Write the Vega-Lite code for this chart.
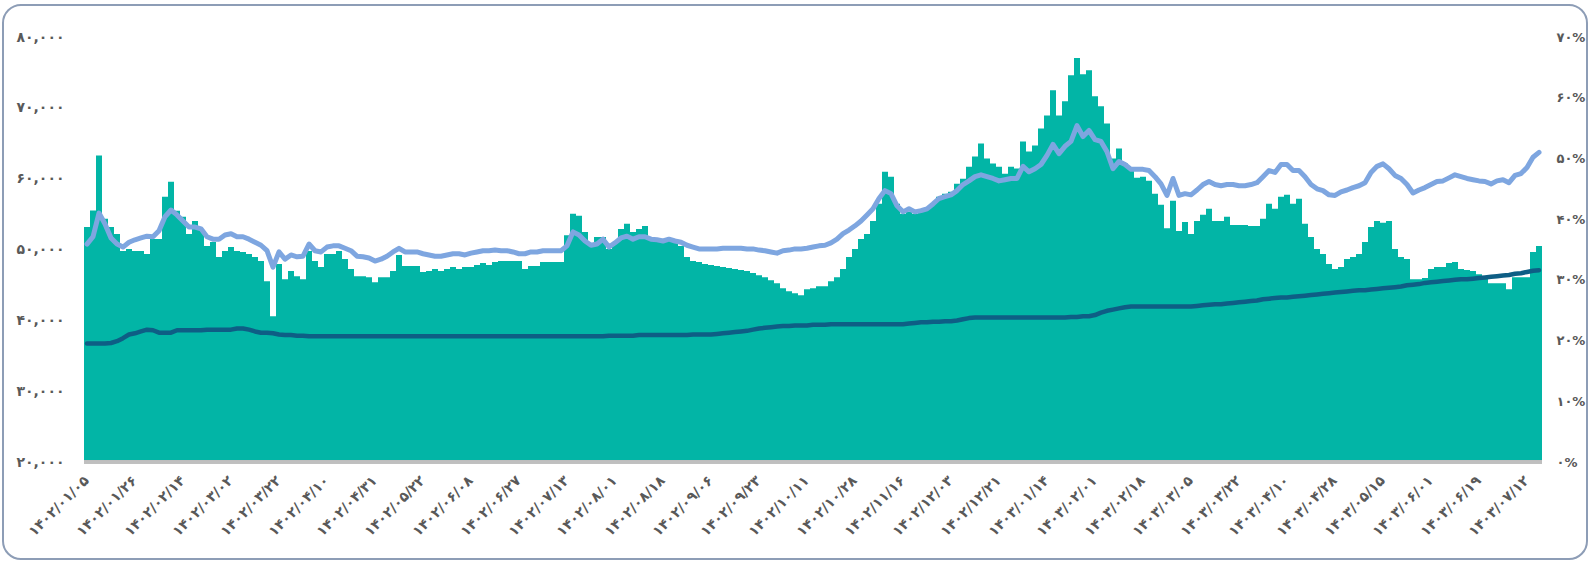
{
"$schema":"https://vega.github.io/schema/vega-lite/v6.json",
"width":1584,"height":554,
"autosize":{"type":"none"},
"padding":{"left":3,"top":5,"right":3,"bottom":3},
"background":"white",
"config":{"view":{"stroke":"#8D9DB6","strokeWidth":2,"cornerRadius":18,"fill":"white"},"font":"DejaVu Sans"},
"data":{"values":[
{"d":"۱۴۰۲/۰۱/۰۵","v":53190,"p":35.9,"q":19.5},{"d":"۱۴۰۲/۰۱/۰۸","v":55500,"p":37.1,"q":19.5},{"d":"۱۴۰۲/۰۱/۱۰","v":63260,"p":41.0,"q":19.5},{"d":"۱۴۰۲/۰۱/۱۳","v":54330,"p":39.2,"q":19.5},{"d":"۱۴۰۲/۰۱/۱۶","v":53190,"p":36.9,"q":19.6},{"d":"۱۴۰۲/۰۱/۱۸","v":52200,"p":35.9,"q":19.9},{"d":"۱۴۰۲/۰۱/۲۱","v":49790,"p":35.4,"q":20.4},{"d":"۱۴۰۲/۰۱/۲۳","v":50070,"p":36.2,"q":21.0},
{"d":"۱۴۰۲/۰۱/۲۶","v":49790,"p":36.6,"q":21.2},{"d":"۱۴۰۲/۰۱/۲۸","v":49790,"p":36.9,"q":21.5},{"d":"۱۴۰۲/۰۱/۳۱","v":49360,"p":37.2,"q":21.8},{"d":"۱۴۰۲/۰۲/۰۲","v":51490,"p":37.1,"q":21.7},{"d":"۱۴۰۲/۰۲/۰۵","v":51490,"p":38.1,"q":21.3},{"d":"۱۴۰۲/۰۲/۰۷","v":57450,"p":40.4,"q":21.3},{"d":"۱۴۰۲/۰۲/۰۹","v":59570,"p":41.5,"q":21.3},{"d":"۱۴۰۲/۰۲/۱۲","v":55460,"p":40.7,"q":21.7},
{"d":"۱۴۰۲/۰۲/۱۴","v":54610,"p":39.7,"q":21.7},{"d":"۱۴۰۲/۰۲/۱۶","v":52200,"p":38.7,"q":21.7},{"d":"۱۴۰۲/۰۲/۱۹","v":54040,"p":38.7,"q":21.7},{"d":"۱۴۰۲/۰۲/۲۱","v":52900,"p":38.4,"q":21.7},{"d":"۱۴۰۲/۰۲/۲۴","v":50500,"p":37.1,"q":21.8},{"d":"۱۴۰۲/۰۲/۲۶","v":51060,"p":36.7,"q":21.8},{"d":"۱۴۰۲/۰۲/۲۸","v":48940,"p":36.7,"q":21.8},{"d":"۱۴۰۲/۰۲/۳۱","v":49790,"p":37.4,"q":21.8},
{"d":"۱۴۰۲/۰۳/۰۲","v":50360,"p":37.6,"q":21.8},{"d":"۱۴۰۲/۰۳/۰۵","v":49790,"p":37.1,"q":22.0},{"d":"۱۴۰۲/۰۳/۰۷","v":49650,"p":37.1,"q":22.0},{"d":"۱۴۰۲/۰۳/۱۰","v":49360,"p":36.7,"q":21.8},{"d":"۱۴۰۲/۰۳/۱۲","v":48940,"p":36.2,"q":21.5},{"d":"۱۴۰۲/۰۳/۱۵","v":48370,"p":35.7,"q":21.3},{"d":"۱۴۰۲/۰۳/۱۷","v":45530,"p":34.8,"q":21.3},{"d":"۱۴۰۲/۰۳/۲۰","v":40570,"p":32.1,"q":21.2},
{"d":"۱۴۰۲/۰۳/۲۲","v":47940,"p":34.6,"q":21.0},{"d":"۱۴۰۲/۰۳/۲۴","v":45810,"p":33.4,"q":20.9},{"d":"۱۴۰۲/۰۳/۲۷","v":46950,"p":34.1,"q":20.9},{"d":"۱۴۰۲/۰۳/۲۹","v":46240,"p":33.8,"q":20.8},{"d":"۱۴۰۲/۰۴/۰۱","v":45810,"p":33.9,"q":20.8},{"d":"۱۴۰۲/۰۴/۰۳","v":49790,"p":35.9,"q":20.7},{"d":"۱۴۰۲/۰۴/۰۵","v":48370,"p":34.8,"q":20.7},{"d":"۱۴۰۲/۰۴/۰۸","v":47520,"p":34.6,"q":20.7},
{"d":"۱۴۰۲/۰۴/۱۰","v":49360,"p":35.4,"q":20.7},{"d":"۱۴۰۲/۰۴/۱۳","v":49360,"p":35.6,"q":20.7},{"d":"۱۴۰۲/۰۴/۱۵","v":49790,"p":35.6,"q":20.7},{"d":"۱۴۰۲/۰۴/۱۸","v":48650,"p":35.2,"q":20.7},{"d":"۱۴۰۲/۰۴/۲۱","v":47230,"p":34.8,"q":20.7},{"d":"۱۴۰۲/۰۴/۲۳","v":46240,"p":33.9,"q":20.7},{"d":"۱۴۰۲/۰۴/۲۶","v":46240,"p":33.8,"q":20.7},{"d":"۱۴۰۲/۰۴/۲۸","v":46100,"p":33.6,"q":20.7},
{"d":"۱۴۰۲/۰۴/۳۱","v":45390,"p":33.1,"q":20.7},{"d":"۱۴۰۲/۰۵/۰۳","v":46100,"p":33.4,"q":20.7},{"d":"۱۴۰۲/۰۵/۰۶","v":46100,"p":33.9,"q":20.7},{"d":"۱۴۰۲/۰۵/۰۸","v":46950,"p":34.6,"q":20.7},{"d":"۱۴۰۲/۰۵/۱۱","v":49220,"p":35.2,"q":20.7},{"d":"۱۴۰۲/۰۵/۱۴","v":47660,"p":34.6,"q":20.7},{"d":"۱۴۰۲/۰۵/۱۷","v":47660,"p":34.6,"q":20.7},{"d":"۱۴۰۲/۰۵/۱۹","v":47660,"p":34.6,"q":20.7},
{"d":"۱۴۰۲/۰۵/۲۲","v":46810,"p":34.3,"q":20.7},{"d":"۱۴۰۲/۰۵/۲۴","v":46950,"p":34.1,"q":20.7},{"d":"۱۴۰۲/۰۵/۲۶","v":47230,"p":33.9,"q":20.7},{"d":"۱۴۰۲/۰۵/۲۸","v":46950,"p":33.9,"q":20.7},{"d":"۱۴۰۲/۰۵/۳۱","v":47230,"p":34.1,"q":20.7},{"d":"۱۴۰۲/۰۶/۰۲","v":47520,"p":34.3,"q":20.7},{"d":"۱۴۰۲/۰۶/۰۴","v":47230,"p":34.3,"q":20.7},{"d":"۱۴۰۲/۰۶/۰۶","v":47520,"p":34.1,"q":20.7},
{"d":"۱۴۰۲/۰۶/۰۸","v":47520,"p":34.4,"q":20.7},{"d":"۱۴۰۲/۰۶/۱۰","v":47800,"p":34.6,"q":20.7},{"d":"۱۴۰۲/۰۶/۱۳","v":48080,"p":34.8,"q":20.7},{"d":"۱۴۰۲/۰۶/۱۵","v":47800,"p":34.8,"q":20.7},{"d":"۱۴۰۲/۰۶/۱۸","v":48230,"p":34.9,"q":20.7},{"d":"۱۴۰۲/۰۶/۲۰","v":48370,"p":34.8,"q":20.7},{"d":"۱۴۰۲/۰۶/۲۲","v":48370,"p":34.8,"q":20.7},{"d":"۱۴۰۲/۰۶/۲۵","v":48370,"p":34.6,"q":20.7},
{"d":"۱۴۰۲/۰۶/۲۷","v":48370,"p":34.3,"q":20.7},{"d":"۱۴۰۲/۰۶/۲۹","v":47230,"p":34.3,"q":20.7},{"d":"۱۴۰۲/۰۶/۳۱","v":47660,"p":34.6,"q":20.7},{"d":"۱۴۰۲/۰۷/۰۲","v":47660,"p":34.6,"q":20.7},{"d":"۱۴۰۲/۰۷/۰۵","v":48230,"p":34.8,"q":20.7},{"d":"۱۴۰۲/۰۷/۰۷","v":48230,"p":34.8,"q":20.7},{"d":"۱۴۰۲/۰۷/۰۹","v":48230,"p":34.8,"q":20.7},{"d":"۱۴۰۲/۰۷/۱۱","v":48230,"p":34.8,"q":20.7},
{"d":"۱۴۰۲/۰۷/۱۳","v":52000,"p":35.6,"q":20.7},{"d":"۱۴۰۲/۰۷/۱۵","v":55030,"p":37.9,"q":20.7},{"d":"۱۴۰۲/۰۷/۱۸","v":54750,"p":37.4,"q":20.7},{"d":"۱۴۰۲/۰۷/۲۰","v":52480,"p":36.4,"q":20.7},{"d":"۱۴۰۲/۰۷/۲۲","v":50500,"p":35.7,"q":20.7},{"d":"۱۴۰۲/۰۷/۲۴","v":51770,"p":35.9,"q":20.7},{"d":"۱۴۰۲/۰۷/۲۷","v":51770,"p":36.7,"q":20.7},{"d":"۱۴۰۲/۰۷/۲۹","v":50070,"p":35.4,"q":20.8},
{"d":"۱۴۰۲/۰۸/۰۱","v":51060,"p":36.1,"q":20.8},{"d":"۱۴۰۲/۰۸/۰۳","v":52900,"p":36.9,"q":20.8},{"d":"۱۴۰۲/۰۸/۰۵","v":53620,"p":37.2,"q":20.8},{"d":"۱۴۰۲/۰۸/۰۷","v":52480,"p":36.7,"q":20.8},{"d":"۱۴۰۲/۰۸/۱۰","v":52900,"p":37.1,"q":20.9},{"d":"۱۴۰۲/۰۸/۱۲","v":53330,"p":37.1,"q":20.9},{"d":"۱۴۰۲/۰۸/۱۴","v":51490,"p":36.7,"q":20.9},{"d":"۱۴۰۲/۰۸/۱۶","v":51200,"p":36.6,"q":20.9},
{"d":"۱۴۰۲/۰۸/۱۸","v":51200,"p":36.4,"q":20.9},{"d":"۱۴۰۲/۰۸/۲۰","v":51200,"p":36.7,"q":20.9},{"d":"۱۴۰۲/۰۸/۲۳","v":51060,"p":36.4,"q":20.9},{"d":"۱۴۰۲/۰۸/۲۵","v":50500,"p":36.2,"q":20.9},{"d":"۱۴۰۲/۰۸/۲۷","v":48940,"p":35.7,"q":20.9},{"d":"۱۴۰۲/۰۸/۲۹","v":48370,"p":35.4,"q":21.0},{"d":"۱۴۰۲/۰۹/۰۲","v":48230,"p":35.1,"q":21.0},{"d":"۱۴۰۲/۰۹/۰۴","v":47940,"p":35.1,"q":21.0},
{"d":"۱۴۰۲/۰۹/۰۶","v":47800,"p":35.1,"q":21.0},{"d":"۱۴۰۲/۰۹/۰۸","v":47660,"p":35.1,"q":21.1},{"d":"۱۴۰۲/۰۹/۱۰","v":47520,"p":35.2,"q":21.2},{"d":"۱۴۰۲/۰۹/۱۲","v":47380,"p":35.2,"q":21.3},{"d":"۱۴۰۲/۰۹/۱۵","v":47230,"p":35.2,"q":21.4},{"d":"۱۴۰۲/۰۹/۱۷","v":47090,"p":35.2,"q":21.5},{"d":"۱۴۰۲/۰۹/۱۹","v":46950,"p":35.1,"q":21.6},{"d":"۱۴۰۲/۰۹/۲۱","v":46670,"p":35.1,"q":21.8},
{"d":"۱۴۰۲/۰۹/۲۳","v":46380,"p":34.9,"q":22.0},{"d":"۱۴۰۲/۰۹/۲۵","v":46100,"p":34.8,"q":22.1},{"d":"۱۴۰۲/۰۹/۲۸","v":45670,"p":34.6,"q":22.2},{"d":"۱۴۰۲/۰۹/۳۰","v":45250,"p":34.4,"q":22.3},{"d":"۱۴۰۲/۱۰/۰۲","v":44540,"p":34.8,"q":22.4},{"d":"۱۴۰۲/۱۰/۰۴","v":44110,"p":34.9,"q":22.4},{"d":"۱۴۰۲/۱۰/۰۷","v":43830,"p":35.1,"q":22.5},{"d":"۱۴۰۲/۱۰/۰۹","v":43550,"p":35.1,"q":22.5},
{"d":"۱۴۰۲/۱۰/۱۱","v":44400,"p":35.2,"q":22.5},{"d":"۱۴۰۲/۱۰/۱۳","v":44540,"p":35.4,"q":22.6},{"d":"۱۴۰۲/۱۰/۱۵","v":44820,"p":35.6,"q":22.6},{"d":"۱۴۰۲/۱۰/۱۷","v":44820,"p":35.7,"q":22.6},{"d":"۱۴۰۲/۱۰/۲۰","v":45530,"p":36.1,"q":22.7},{"d":"۱۴۰۲/۱۰/۲۲","v":46100,"p":36.7,"q":22.7},{"d":"۱۴۰۲/۱۰/۲۴","v":47230,"p":37.6,"q":22.7},{"d":"۱۴۰۲/۱۰/۲۶","v":48940,"p":38.2,"q":22.7},
{"d":"۱۴۰۲/۱۰/۲۸","v":50070,"p":38.9,"q":22.7},{"d":"۱۴۰۲/۱۰/۳۰","v":51490,"p":39.7,"q":22.7},{"d":"۱۴۰۲/۱۱/۰۳","v":52200,"p":40.7,"q":22.7},{"d":"۱۴۰۲/۱۱/۰۵","v":54040,"p":41.7,"q":22.7},{"d":"۱۴۰۲/۱۱/۰۷","v":56450,"p":43.4,"q":22.7},{"d":"۱۴۰۲/۱۱/۰۹","v":60990,"p":44.7,"q":22.7},{"d":"۱۴۰۲/۱۱/۱۲","v":60280,"p":44.2,"q":22.7},{"d":"۱۴۰۲/۱۱/۱۴","v":56450,"p":42.2,"q":22.7},
{"d":"۱۴۰۲/۱۱/۱۶","v":55030,"p":41.2,"q":22.7},{"d":"۱۴۰۲/۱۱/۱۸","v":55320,"p":41.7,"q":22.8},{"d":"۱۴۰۲/۱۱/۲۰","v":55030,"p":41.2,"q":22.9},{"d":"۱۴۰۲/۱۱/۲۲","v":55460,"p":41.4,"q":23.0},{"d":"۱۴۰۲/۱۱/۲۵","v":55740,"p":41.7,"q":23.0},{"d":"۱۴۰۲/۱۱/۲۷","v":56450,"p":42.5,"q":23.1},{"d":"۱۴۰۲/۱۱/۲۹","v":57450,"p":43.4,"q":23.1},{"d":"۱۴۰۲/۱۲/۰۱","v":57870,"p":43.7,"q":23.2},
{"d":"۱۴۰۲/۱۲/۰۳","v":58160,"p":44.0,"q":23.2},{"d":"۱۴۰۲/۱۲/۰۵","v":59290,"p":44.7,"q":23.3},{"d":"۱۴۰۲/۱۲/۰۸","v":60000,"p":45.7,"q":23.5},{"d":"۱۴۰۲/۱۲/۱۰","v":61700,"p":46.3,"q":23.7},{"d":"۱۴۰۲/۱۲/۱۲","v":63120,"p":47.0,"q":23.8},{"d":"۱۴۰۲/۱۲/۱۴","v":64960,"p":47.3,"q":23.8},{"d":"۱۴۰۲/۱۲/۱۷","v":62840,"p":47.0,"q":23.8},{"d":"۱۴۰۲/۱۲/۱۹","v":62130,"p":46.7,"q":23.8},
{"d":"۱۴۰۲/۱۲/۲۱","v":61700,"p":46.3,"q":23.8},{"d":"۱۴۰۲/۱۲/۲۴","v":60710,"p":46.5,"q":23.8},{"d":"۱۴۰۲/۱۲/۲۷","v":61700,"p":46.7,"q":23.8},{"d":"۱۴۰۲/۱۲/۲۹","v":61420,"p":46.7,"q":23.8},{"d":"۱۴۰۳/۰۱/۰۳","v":65250,"p":48.7,"q":23.8},{"d":"۱۴۰۳/۰۱/۰۶","v":63830,"p":47.8,"q":23.8},{"d":"۱۴۰۳/۰۱/۰۹","v":64680,"p":48.3,"q":23.8},{"d":"۱۴۰۳/۰۱/۱۱","v":67090,"p":49.0,"q":23.8},
{"d":"۱۴۰۳/۰۱/۱۴","v":68930,"p":50.5,"q":23.8},{"d":"۱۴۰۳/۰۱/۱۶","v":72480,"p":52.3,"q":23.8},{"d":"۱۴۰۳/۰۱/۱۹","v":68930,"p":50.8,"q":23.8},{"d":"۱۴۰۳/۰۱/۲۱","v":70920,"p":52.0,"q":23.8},{"d":"۱۴۰۳/۰۱/۲۳","v":74610,"p":52.8,"q":23.9},{"d":"۱۴۰۳/۰۱/۲۵","v":77020,"p":55.4,"q":23.9},{"d":"۱۴۰۳/۰۱/۲۸","v":74750,"p":53.6,"q":24.0},{"d":"۱۴۰۳/۰۱/۳۰","v":75320,"p":54.6,"q":24.0},
{"d":"۱۴۰۳/۰۲/۰۱","v":71630,"p":53.1,"q":24.2},{"d":"۱۴۰۳/۰۲/۰۳","v":70210,"p":52.8,"q":24.6},{"d":"۱۴۰۳/۰۲/۰۵","v":67800,"p":51.1,"q":24.9},{"d":"۱۴۰۳/۰۲/۰۷","v":62840,"p":48.3,"q":25.1},{"d":"۱۴۰۳/۰۲/۱۰","v":64250,"p":49.5,"q":25.3},{"d":"۱۴۰۳/۰۲/۱۲","v":62130,"p":49.0,"q":25.5},{"d":"۱۴۰۳/۰۲/۱۴","v":61420,"p":48.2,"q":25.6},{"d":"۱۴۰۳/۰۲/۱۶","v":60140,"p":48.2,"q":25.6},
{"d":"۱۴۰۳/۰۲/۱۸","v":60280,"p":48.2,"q":25.6},{"d":"۱۴۰۳/۰۲/۲۰","v":59720,"p":48.0,"q":25.6},{"d":"۱۴۰۳/۰۲/۲۳","v":57870,"p":47.0,"q":25.6},{"d":"۱۴۰۳/۰۲/۲۵","v":56310,"p":45.8,"q":25.6},{"d":"۱۴۰۳/۰۲/۲۷","v":53000,"p":43.9,"q":25.6},{"d":"۱۴۰۳/۰۲/۲۹","v":56880,"p":46.7,"q":25.6},{"d":"۱۴۰۳/۰۳/۰۱","v":52620,"p":43.9,"q":25.6},{"d":"۱۴۰۳/۰۳/۰۳","v":53900,"p":44.2,"q":25.6},
{"d":"۱۴۰۳/۰۳/۰۵","v":52200,"p":44.0,"q":25.6},{"d":"۱۴۰۳/۰۳/۰۷","v":54040,"p":44.8,"q":25.7},{"d":"۱۴۰۳/۰۳/۰۹","v":54890,"p":45.7,"q":25.8},{"d":"۱۴۰۳/۰۳/۱۱","v":55740,"p":46.2,"q":25.9},{"d":"۱۴۰۳/۰۳/۱۴","v":54040,"p":45.7,"q":26.0},{"d":"۱۴۰۳/۰۳/۱۶","v":54040,"p":45.5,"q":26.0},{"d":"۱۴۰۳/۰۳/۱۸","v":54610,"p":45.7,"q":26.1},{"d":"۱۴۰۳/۰۳/۲۰","v":53470,"p":45.7,"q":26.2},
{"d":"۱۴۰۳/۰۳/۲۲","v":53470,"p":45.5,"q":26.3},{"d":"۱۴۰۳/۰۳/۲۴","v":53470,"p":45.5,"q":26.4},{"d":"۱۴۰۳/۰۳/۲۷","v":53330,"p":45.7,"q":26.5},{"d":"۱۴۰۳/۰۳/۲۹","v":53330,"p":46.0,"q":26.6},{"d":"۱۴۰۳/۰۴/۰۱","v":54330,"p":47.0,"q":26.8},{"d":"۱۴۰۳/۰۴/۰۳","v":56450,"p":48.0,"q":26.9},{"d":"۱۴۰۳/۰۴/۰۵","v":55740,"p":47.7,"q":27.0},{"d":"۱۴۰۳/۰۴/۰۸","v":57450,"p":49.0,"q":27.1},
{"d":"۱۴۰۳/۰۴/۱۰","v":57730,"p":49.0,"q":27.1},{"d":"۱۴۰۳/۰۴/۱۲","v":56450,"p":48.0,"q":27.2},{"d":"۱۴۰۳/۰۴/۱۵","v":57160,"p":48.0,"q":27.3},{"d":"۱۴۰۳/۰۴/۱۷","v":53620,"p":47.0,"q":27.4},{"d":"۱۴۰۳/۰۴/۱۹","v":51770,"p":45.7,"q":27.5},{"d":"۱۴۰۳/۰۴/۲۱","v":50070,"p":45.0,"q":27.6},{"d":"۱۴۰۳/۰۴/۲۴","v":49360,"p":44.7,"q":27.7},{"d":"۱۴۰۳/۰۴/۲۶","v":47940,"p":44.0,"q":27.8},
{"d":"۱۴۰۳/۰۴/۲۸","v":47230,"p":43.9,"q":27.9},{"d":"۱۴۰۳/۰۴/۳۰","v":47520,"p":44.5,"q":28.0},{"d":"۱۴۰۳/۰۵/۰۲","v":48650,"p":44.8,"q":28.1},{"d":"۱۴۰۳/۰۵/۰۴","v":48940,"p":45.2,"q":28.2},{"d":"۱۴۰۳/۰۵/۰۶","v":49360,"p":45.5,"q":28.3},{"d":"۱۴۰۳/۰۵/۰۸","v":51060,"p":46.0,"q":28.3},{"d":"۱۴۰۳/۰۵/۱۱","v":53190,"p":47.7,"q":28.4},{"d":"۱۴۰۳/۰۵/۱۳","v":54040,"p":48.7,"q":28.5},
{"d":"۱۴۰۳/۰۵/۱۵","v":53760,"p":49.1,"q":28.6},{"d":"۱۴۰۳/۰۵/۱۷","v":54040,"p":48.3,"q":28.7},{"d":"۱۴۰۳/۰۵/۱۹","v":50070,"p":47.2,"q":28.8},{"d":"۱۴۰۳/۰۵/۲۱","v":48940,"p":46.7,"q":28.9},{"d":"۱۴۰۳/۰۵/۲۴","v":48650,"p":45.7,"q":29.1},{"d":"۱۴۰۳/۰۵/۲۶","v":45810,"p":44.3,"q":29.2},{"d":"۱۴۰۳/۰۵/۲۸","v":45810,"p":44.8,"q":29.3},{"d":"۱۴۰۳/۰۵/۳۰","v":45960,"p":45.2,"q":29.5},
{"d":"۱۴۰۳/۰۶/۰۱","v":47230,"p":45.7,"q":29.6},{"d":"۱۴۰۳/۰۶/۰۳","v":47520,"p":46.2,"q":29.7},{"d":"۱۴۰۳/۰۶/۰۶","v":47520,"p":46.3,"q":29.8},{"d":"۱۴۰۳/۰۶/۰۸","v":48080,"p":46.8,"q":29.9},{"d":"۱۴۰۳/۰۶/۱۰","v":48230,"p":47.3,"q":30.0},{"d":"۱۴۰۳/۰۶/۱۲","v":47230,"p":47.0,"q":30.1},{"d":"۱۴۰۳/۰۶/۱۵","v":47090,"p":46.7,"q":30.1},{"d":"۱۴۰۳/۰۶/۱۷","v":46950,"p":46.5,"q":30.2},
{"d":"۱۴۰۳/۰۶/۱۹","v":46520,"p":46.3,"q":30.3},{"d":"۱۴۰۳/۰۶/۲۲","v":46100,"p":46.2,"q":30.4},{"d":"۱۴۰۳/۰۶/۲۵","v":45250,"p":45.8,"q":30.5},{"d":"۱۴۰۳/۰۶/۲۸","v":45250,"p":46.3,"q":30.6},{"d":"۱۴۰۳/۰۶/۳۱","v":45250,"p":46.5,"q":30.7},{"d":"۱۴۰۳/۰۷/۰۳","v":44400,"p":46.0,"q":30.8},{"d":"۱۴۰۳/۰۷/۰۶","v":46100,"p":47.2,"q":31.0},{"d":"۱۴۰۳/۰۷/۰۹","v":46100,"p":47.5,"q":31.1},
{"d":"۱۴۰۳/۰۷/۱۲","v":46100,"p":48.5,"q":31.3},{"d":"۱۴۰۳/۰۷/۱۴","v":49650,"p":50.2,"q":31.5},{"d":"۱۴۰۳/۰۷/۱۵","v":50500,"p":51.0,"q":31.6}
]},
"encoding":{
  "x":{"field":"d","type":"ordinal","sort":null,
    "scale":{"paddingInner":0,"paddingOuter":0,"range":[81,1539]},
    "axis":{"title":null,"ticks":false,"domain":false,"offset":-97,"labelAngle":-45,"labelAlign":"right","labelBaseline":"middle","labelPadding":16,
      "labelFont":"DejaVu Sans","labelFontSize":14,"labelFontWeight":"bold","labelColor":"#595959","labelOverlap":false,"labelBound":false,
      "values":["۱۴۰۲/۰۱/۰۵","۱۴۰۲/۰۱/۲۶","۱۴۰۲/۰۲/۱۴","۱۴۰۲/۰۳/۰۲","۱۴۰۲/۰۳/۲۲","۱۴۰۲/۰۴/۱۰","۱۴۰۲/۰۴/۳۱","۱۴۰۲/۰۵/۲۲","۱۴۰۲/۰۶/۰۸","۱۴۰۲/۰۶/۲۷","۱۴۰۲/۰۷/۱۳","۱۴۰۲/۰۸/۰۱","۱۴۰۲/۰۸/۱۸","۱۴۰۲/۰۹/۰۶","۱۴۰۲/۰۹/۲۳","۱۴۰۲/۱۰/۱۱","۱۴۰۲/۱۰/۲۸","۱۴۰۲/۱۱/۱۶","۱۴۰۲/۱۲/۰۳","۱۴۰۲/۱۲/۲۱","۱۴۰۳/۰۱/۱۴","۱۴۰۳/۰۲/۰۱","۱۴۰۳/۰۲/۱۸","۱۴۰۳/۰۳/۰۵","۱۴۰۳/۰۳/۲۲","۱۴۰۳/۰۴/۱۰","۱۴۰۳/۰۴/۲۸","۱۴۰۳/۰۵/۱۵","۱۴۰۳/۰۶/۰۱","۱۴۰۳/۰۶/۱۹","۱۴۰۳/۰۷/۱۲"]}}
},
"layer":[
  {"layer":[
    {"mark":{"type":"bar","color":"#02B5A6","stroke":null},
     "encoding":{
       "y":{"field":"v","type":"quantitative","scale":{"domain":[20000,80000],"range":[457,32],"nice":false,"zero":false},
         "axis":{"title":null,"orient":"left","offset":-81,"values":[20000,30000,40000,50000,60000,70000,80000],"grid":false,"ticks":false,"domain":false,
           "labelPadding":20,"labelFont":"DejaVu Sans","labelFontSize":14,"labelFontWeight":"bold","labelColor":"#595959","labelBound":false,
           "labelExpr":"['۲۰,۰۰۰','۳۰,۰۰۰','۴۰,۰۰۰','۵۰,۰۰۰','۶۰,۰۰۰','۷۰,۰۰۰','۸۰,۰۰۰'][round(datum.value/10000)-2]"}},
       "y2":{"datum":20000}}},
    {"mark":{"type":"rule","color":"#BFBFBF","strokeWidth":2.5},
     "encoding":{
       "x":{"datum":"۱۴۰۲/۰۱/۰۵","type":"ordinal","bandPosition":0},
       "x2":{"datum":"۱۴۰۳/۰۷/۱۵","bandPosition":1},
       "y":{"datum":20000,"type":"quantitative"}}}
  ]},
  {"layer":[
    {"mark":{"type":"line","color":"#7EA6E0","strokeWidth":5,"strokeCap":"round","strokeJoin":"round"},
     "encoding":{"y":{"field":"p","type":"quantitative","scale":{"domain":[0,70],"range":[457,32],"nice":false,"zero":false},
       "axis":{"title":null,"orient":"right","offset":-45,"values":[0,10,20,30,40,50,60,70],"grid":false,"ticks":false,"domain":false,
         "labelPadding":14,"labelFont":"DejaVu Sans","labelFontSize":13,"labelFontWeight":"bold","labelColor":"#595959","labelBound":false,
         "labelExpr":"['۰%','۱۰%','۲۰%','۳۰%','۴۰%','۵۰%','۶۰%','۷۰%'][round(datum.value/10)]"}}}},
    {"mark":{"type":"line","color":"#0E5E85","strokeWidth":4.5,"strokeCap":"round","strokeJoin":"round"},
     "encoding":{"y":{"field":"q","type":"quantitative","scale":{"domain":[0,70],"range":[457,32],"nice":false,"zero":false},
       "axis":{"title":null,"orient":"right","offset":-45,"values":[0,10,20,30,40,50,60,70],"grid":false,"ticks":false,"domain":false,
         "labelPadding":14,"labelFont":"DejaVu Sans","labelFontSize":13,"labelFontWeight":"bold","labelColor":"#595959","labelBound":false,
         "labelExpr":"['۰%','۱۰%','۲۰%','۳۰%','۴۰%','۵۰%','۶۰%','۷۰%'][round(datum.value/10)]"}}}}
  ]}
],
"resolve":{"scale":{"y":"independent"}}
}
